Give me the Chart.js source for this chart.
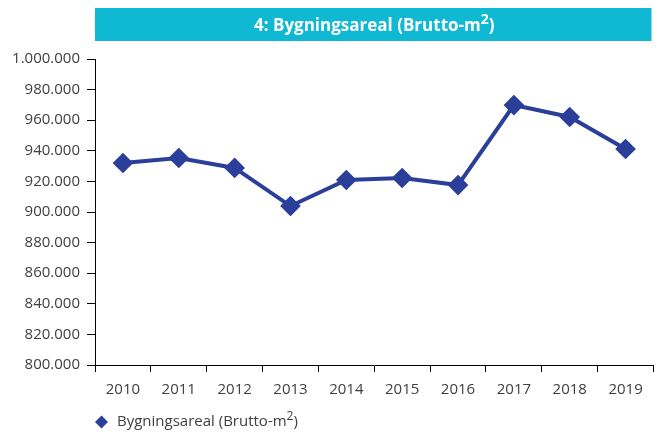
<!DOCTYPE html>
<html>
<head>
<meta charset="utf-8">
<script src="https://cdn.jsdelivr.net/npm/chart.js@4.4.1/dist/chart.umd.min.js"></script>
<style>
    html, body { margin: 0; padding: 0; background: #fff; }
    #wrap { width: 665px; height: 432px; }
</style>
</head>
<body>
<div id="wrap"><canvas id="arealChart" width="665" height="432"></canvas></div>
<script>
// Data
const years = ['2010', '2011', '2012', '2013', '2014', '2015', '2016', '2017', '2018', '2019'];
const arealValues = [932000, 935300, 928800, 903900, 920900, 922200, 917600, 969900, 962100, 941200];
const seriesLabel = 'Bygningsareal (Brutto-m²)';
// tekst delt op for at tegne hævet 2-tal
const titleParts = ['4: Bygningsareal (Brutto-m', '2', ')'];
const legendParts = ['Bygningsareal (Brutto-m', '2', ')'];

const lineColor = '#2B3F9A';
const titleColor = '#10B9D3';
const textColor = '#404040';

// 1.000.000 format
function formatNumber(v) {
    return String(Math.round(v)).replace(/\B(?=(\d{3})+(?!\d))/g, '.');
}

// Tekst med hævet del (m2)
function drawSuperText(ctx, parts, x, y, size, weight, align) {
    const mainFont = `${weight} ${size}px "Open Sans"`;
    const supFont = `${weight} ${Math.round(size * 0.8)}px "Open Sans"`;
    ctx.font = mainFont;
    const w0 = ctx.measureText(parts[0]).width;
    const w2 = ctx.measureText(parts[2]).width;
    ctx.font = supFont;
    const w1 = ctx.measureText(parts[1]).width;
    const total = w0 + w1 + w2;
    let sx = align === 'center' ? x - total / 2 : x;
    ctx.textAlign = 'left';
    ctx.textBaseline = 'middle';
    ctx.font = mainFont;
    ctx.fillText(parts[0], sx, y);
    ctx.font = supFont;
    ctx.fillText(parts[1], sx + w0, y - size * 0.38);
    ctx.font = mainFont;
    ctx.fillText(parts[2], sx + w0 + w1, y);
}

// Titelbjælke + legende
const decorPlugin = {
    id: 'decor',
    afterDraw(chart) {
        const ctx = chart.ctx;
        const area = chart.chartArea;
        ctx.save();

        // Titelbjælke
        ctx.fillStyle = titleColor;
        ctx.fillRect(area.left, 8, area.right - area.left - 2, 33);
        ctx.fillStyle = '#ffffff';
        drawSuperText(ctx, titleParts, (area.left + area.right) / 2, 26, 17, 'bold', 'center');

        // Legende
        const lx = 101.5, ly = 422;
        ctx.fillStyle = lineColor;
        ctx.beginPath();
        ctx.moveTo(lx, ly - 6.5);
        ctx.lineTo(lx + 6.5, ly);
        ctx.lineTo(lx, ly + 6.5);
        ctx.lineTo(lx - 6.5, ly);
        ctx.closePath();
        ctx.fill();
        ctx.fillStyle = textColor;
        drawSuperText(ctx, legendParts, 117, ly, 15, 'normal', 'left');
        ctx.restore();
    }
};

const ctx = document.getElementById('arealChart').getContext('2d');
const arealChart = new Chart(ctx, {
    type: 'line',
    data: {
        labels: years,
        datasets: [{
            label: seriesLabel,
            data: arealValues,
            borderColor: lineColor,
            backgroundColor: lineColor,
            borderWidth: 4,
            pointStyle: 'rectRot',
            pointRadius: 7.5,
            pointHoverRadius: 7.5,
            tension: 0
        }]
    },
    options: {
        responsive: false,
        animation: false,
        layout: {
            padding: { top: 59, right: 8, bottom: 0, left: 0 }
        },
        plugins: {
            legend: { display: false },
            title: { display: false },
            tooltip: { enabled: false }
        },
        scales: {
            x: {
                offset: true,
                grid: {
                    offset: true,
                    drawOnChartArea: false,
                    drawTicks: true,
                    tickLength: 7,
                    color: '#000'
                },
                border: { display: true, color: '#000', width: 1 },
                ticks: {
                    color: textColor,
                    font: { family: 'Open Sans', size: 15 },
                    padding: 9,
                    maxRotation: 0
                },
                afterFit(scale) { scale.height = 67; }
            },
            y: {
                min: 800000,
                max: 1000000,
                grid: {
                    drawOnChartArea: false,
                    drawTicks: true,
                    tickLength: 8,
                    color: '#000'
                },
                border: { display: true, color: '#000', width: 1 },
                ticks: {
                    stepSize: 20000,
                    color: textColor,
                    font: { family: 'Open Sans', size: 15 },
                    padding: 7,
                    callback: (v) => formatNumber(v)
                },
                afterFit(scale) { scale.width = 95; }
            }
        }
    },
    plugins: [decorPlugin]
});
</script>
</body>
</html>
